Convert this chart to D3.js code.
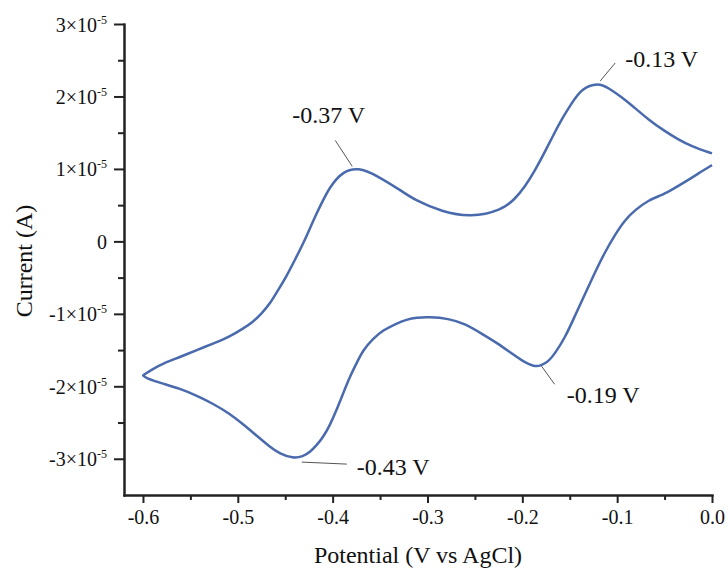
<!DOCTYPE html>
<html lang="en">
<head>
    <meta charset="utf-8">
    <title>Cyclic Voltammogram</title>
    <script type="text/javascript" src="https://cdn.jsdelivr.net/npm/d3@7"></script>
    <style>
        body { margin: 0; background: #fff; }
        svg text { font-family: "Liberation Serif", "Times New Roman", serif; fill: #111; }
    </style>
</head>
<body>
<div id="graph"></div>
<script type="text/javascript">
    var w = 728;
    var h = 571;
    var margin = {top: 24, right: 16, bottom: 76, left: 124};
    var width = w - margin.left - margin.right;
    var height = h - margin.top - margin.bottom;

    // upper branch (right to left), then the return scan (left to right)
    var potential = [0.000, -0.0215, -0.036, -0.0497, -0.067, -0.0848, -0.095, -0.1095, -0.120, -0.1376,
        -0.148, -0.159, -0.166, -0.176, -0.187, -0.197, -0.208, -0.222, -0.254, -0.285,
        -0.313, -0.326, -0.354, -0.373, -0.389, -0.403, -0.410, -0.417, -0.424, -0.431,
        -0.440, -0.449, -0.4576, -0.466, -0.475, -0.484, -0.4945, -0.509, -0.526, -0.544,
        -0.561, -0.579, -0.5895, -0.600, -0.600,
        -0.596, -0.579, -0.561, -0.544, -0.526, -0.5085, -0.495, -0.4804, -0.466, -0.4558,
        -0.442, -0.4312, -0.424, -0.417, -0.410, -0.403, -0.396, -0.389, -0.382, -0.375,
        -0.368, -0.3574, -0.347, -0.333, -0.322, -0.3116, -0.298, -0.278, -0.2607, -0.243,
        -0.2255, -0.211, -0.2009, -0.187, -0.180, -0.173, -0.1657, -0.155, -0.1446, -0.134,
        -0.1235, -0.113, -0.1024, -0.092, -0.0813, -0.067, -0.0532, -0.050, -0.046, -0.025,
        -0.0145, 0.000];
    var current = [1.214e-5, 1.310e-5, 1.410e-5, 1.520e-5, 1.680e-5, 1.880e-5, 1.990e-5, 2.120e-5, 2.190e-5, 2.110e-5,
        1.905e-5, 1.675e-5, 1.500e-5, 1.240e-5, 0.970e-5, 0.760e-5, 0.580e-5, 0.430e-5, 0.330e-5, 0.408e-5,
        0.569e-5, 0.684e-5, 0.915e-5, 1.020e-5, 0.970e-5, 0.753e-5, 0.569e-5, 0.385e-5, 0.178e-5, -0.029e-5,
        -0.260e-5, -0.490e-5, -0.674e-5, -0.858e-5, -0.996e-5, -1.112e-5, -1.203e-5, -1.319e-5, -1.411e-5, -1.503e-5,
        -1.596e-5, -1.687e-5, -1.760e-5, -1.849e-5, -1.849e-5,
        -1.894e-5, -1.963e-5, -2.032e-5, -2.125e-5, -2.240e-5, -2.378e-5, -2.516e-5, -2.678e-5, -2.839e-5, -2.930e-5,
        -2.995e-5, -2.970e-5, -2.908e-5, -2.816e-5, -2.701e-5, -2.539e-5, -2.332e-5, -2.101e-5, -1.872e-5, -1.687e-5,
        -1.503e-5, -1.341e-5, -1.227e-5, -1.134e-5, -1.079e-5, -1.051e-5, -1.043e-5, -1.065e-5, -1.134e-5, -1.272e-5,
        -1.411e-5, -1.549e-5, -1.641e-5, -1.735e-5, -1.710e-5, -1.665e-5, -1.549e-5, -1.330e-5, -1.030e-5, -0.730e-5,
        -0.430e-5, -0.150e-5, 0.090e-5, 0.293e-5, 0.431e-5, 0.569e-5, 0.638e-5, 0.662e-5, 0.684e-5, 0.846e-5,
        0.938e-5, 1.053e-5];

    var xTicks = [-0.6, -0.5, -0.4, -0.3, -0.2, -0.1, 0.0];
    var xMinorTicks = [-0.55, -0.45, -0.35, -0.25, -0.15, -0.05];
    var yTicks = [-3e-5, -2e-5, -1e-5, 0, 1e-5, 2e-5, 3e-5];
    var yMinorTicks = [-2.5e-5, -1.5e-5, -0.5e-5, 0.5e-5, 1.5e-5, 2.5e-5];

    var peakLabels = ["-0.37 V", "-0.13 V", "-0.19 V", "-0.43 V"];
    var peakPotential = [-0.373, -0.120, -0.187, -0.442];
    var peakCurrent = [1.007e-5, 2.172e-5, -1.724e-5, -2.977e-5];

    // leader line start/end and label offsets from each peak, in px
    var leader = [
        {x1: -6, y1: -2, x2: -23, y2: -28, tx: -66, ty: -45},
        {x1: 2, y1: -3, x2: 17, y2: -21, tx: 27, ty: -17},
        {x1: 7, y1: 0, x2: 20, y2: 18, tx: 32, ty: 37},
        {x1: 9, y1: 5, x2: 54, y2: 7, tx: 64, ty: 18}
    ];

    var points = potential.map(function (d, i) {
        return {x: d, y: current[i]};
    });

    var svg = d3.select("#graph")
        .append("svg")
        .attr("width", w)
        .attr("height", h);

    var g = svg.append("g")
        .attr("transform", "translate(" + margin.left + "," + margin.top + ")");

    var xScale = d3.scaleLinear()
        .domain([-0.62, 0])
        .range([0, width]);

    var yScale = d3.scaleLinear()
        .domain([-3.5e-5, 3e-5])
        .range([height, 0]);

    // minor ticks first so the major axis sits on top
    g.append("g")
        .attr("transform", "translate(0," + height + ")")
        .call(d3.axisBottom(xScale).tickValues(xMinorTicks).tickSize(5).tickSizeOuter(0).tickFormat(""))
        .call(styleAxis);

    g.append("g")
        .call(d3.axisLeft(yScale).tickValues(yMinorTicks).tickSize(6).tickSizeOuter(0).tickFormat(""))
        .call(styleAxis);

    var xAxis = g.append("g")
        .attr("transform", "translate(0," + height + ")")
        .call(d3.axisBottom(xScale).tickValues(xTicks).tickSize(8).tickSizeOuter(0)
            .tickFormat(function (d) { return d === 0 ? "0.0" : d3.format(".1f")(d).replace("−", "-"); }))
        .call(styleAxis);

    xAxis.selectAll(".tick text")
        .attr("y", 0)
        .attr("dy", 29)
        .style("font-size", "20px");

    var yAxis = g.append("g")
        .call(d3.axisLeft(yScale).tickValues(yTicks).tickSize(10).tickSizeOuter(0).tickFormat(""))
        .call(styleAxis);

    yAxis.selectAll(".tick text").remove();
    yAxis.selectAll(".tick")
        .append("text")
        .attr("x", -17)
        .attr("dy", 7)
        .attr("text-anchor", "end")
        .style("font-size", "20px")
        .each(function (d) {
            var n = Math.round(d / 1e-5);
            var t = d3.select(this);
            if (n === 0) {
                t.text("0");
                return;
            }
            t.append("tspan").text((n < 0 ? "-" : "") + Math.abs(n) + "×10");
            t.append("tspan").attr("dy", -8).style("font-size", "12px").text("-5");
        });

    function styleAxis(sel) {
        sel.select(".domain").attr("stroke", "#222").attr("stroke-width", 2).attr("stroke-linecap", "square");
        sel.selectAll(".tick line").attr("stroke", "#222").attr("stroke-width", 2);
    }

    // B-spline smooths out small reading errors between the traced points
    var line = d3.line()
        .x(function (d) { return xScale(d.x); })
        .y(function (d) { return yScale(d.y); })
        .curve(d3.curveBasis);

    g.append("path")
        .datum(points)
        .attr("fill", "none")
        .attr("stroke", "#4a6aae")
        .attr("stroke-width", 2.5)
        .attr("stroke-linejoin", "round")
        .attr("d", line);

    // peak annotations
    peakLabels.forEach(function (label, i) {
        var px = xScale(peakPotential[i]);
        var py = yScale(peakCurrent[i]);
        var o = leader[i];
        g.append("line")
            .attr("x1", px + o.x1)
            .attr("y1", py + o.y1)
            .attr("x2", px + o.x2)
            .attr("y2", py + o.y2)
            .attr("stroke", "#555")
            .attr("stroke-width", 1);
        g.append("text")
            .attr("x", px + o.tx)
            .attr("y", py + o.ty)
            .style("font-size", "24px")
            .text(label);
    });

    svg.append("text")
        .attr("text-anchor", "middle")
        .attr("x", 418)
        .attr("y", 563)
        .style("font-size", "24px")
        .text("Potential (V vs AgCl)");

    svg.append("text")
        .attr("text-anchor", "middle")
        .attr("transform", "translate(32," + 261 + ")rotate(-90)")
        .style("font-size", "24px")
        .text("Current (A)");
</script>
</body>
</html>
